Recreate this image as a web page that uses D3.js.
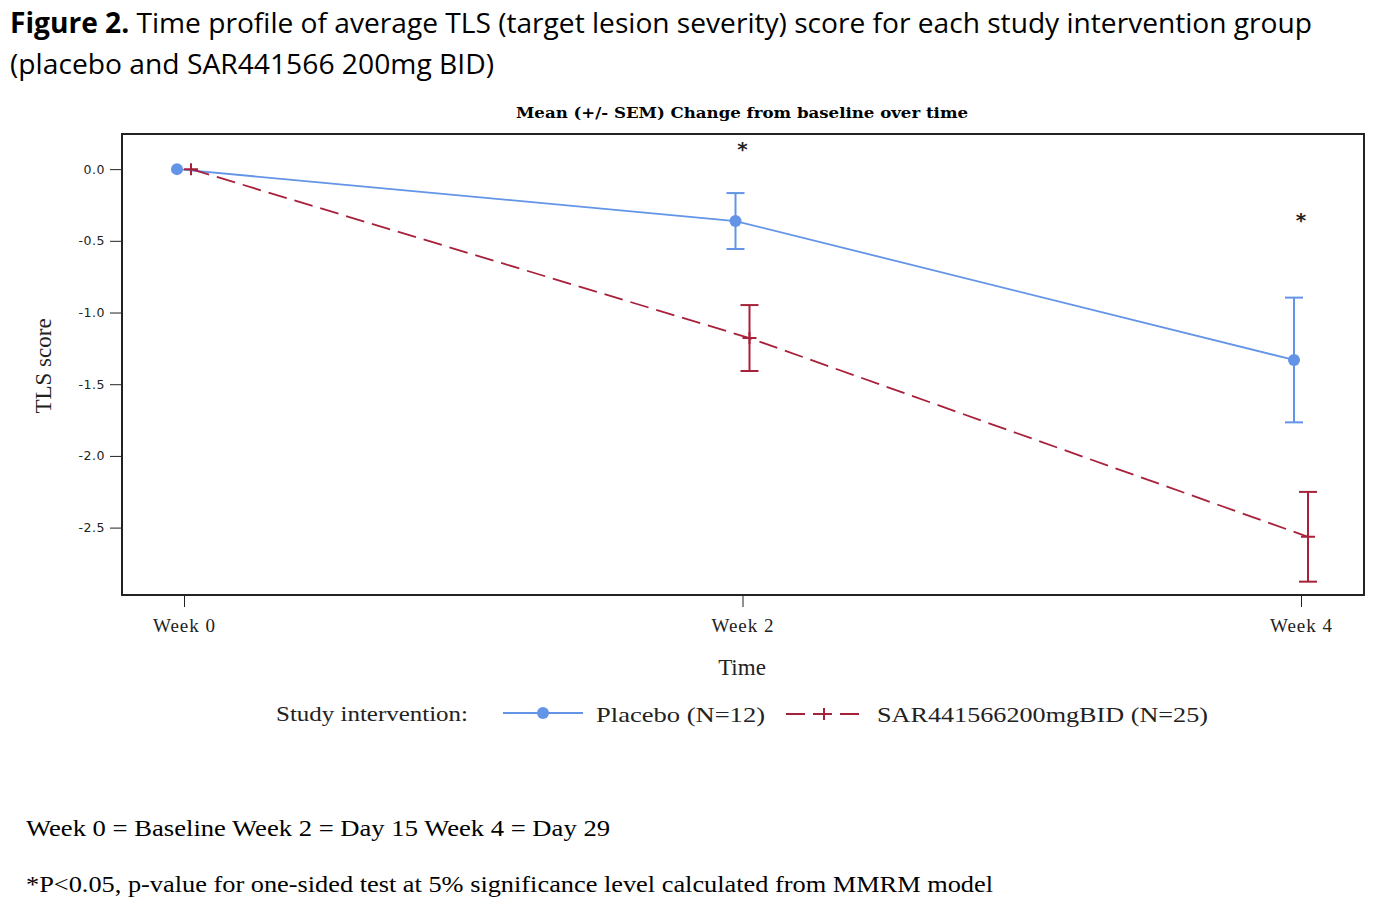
<!DOCTYPE html>
<html>
<head>
<meta charset="utf-8">
<script src="https://cdn.jsdelivr.net/npm/d3@7"></script>
<style>
  body { margin: 0; background: #fff; }
  svg { display: block; }
</style>
</head>
<body>
<script>
// values
const weeks = ["Week 0", "Week 2", "Week 4"]
const placeboMean = [0, -0.362, -1.331]
const placeboSem = [0, 0.195, 0.435]
const sarMean = [0, -1.178, -2.564]
const sarSem = [0, 0.23, 0.313]
const yTicks = [0, -0.5, -1.0, -1.5, -2.0, -2.5]
const significant = ["Week 2", "Week 4"]
const starValue = [0.165, -0.33]

const blue = "#6394e8"
const red = "#a8213b"

const width = 1391, height = 911
const svg = d3.select("body").append("svg")
    .attr("width", width)
    .attr("height", height)

// figure caption
const cap = svg.append("text")
    .attr("x", 10).attr("y", 33)
    .attr("font-family", "Open Sans, sans-serif")
    .attr("font-size", 28)
    .attr("fill", "#000")
    .attr("textLength", 1302)
    .attr("lengthAdjust", "spacingAndGlyphs")
cap.append("tspan").attr("font-weight", "bold").text("Figure 2.")
cap.append("tspan").text(" Time profile of average TLS (target lesion severity) score for each study intervention group")

svg.append("text")
    .attr("x", 10).attr("y", 74)
    .attr("font-family", "Open Sans, sans-serif")
    .attr("font-size", 28)
    .attr("textLength", 484)
    .attr("lengthAdjust", "spacingAndGlyphs")
    .text("(placebo and SAR441566 200mg BID)")

// plot area
const ivp = {x: 122, y: 134, w: 1364, h: 595}

const x = d3.scalePoint()
    .domain(weeks)
    .range([184, 1301])

const y = d3.scaleLinear()
    .domain([-2.97, 0.245])
    .range([ivp.h, ivp.y])

const off = 7

svg.append("text")
    .attr("x", 742).attr("y", 118)
    .attr("text-anchor", "middle")
    .attr("font-family", "DejaVu Serif, serif")
    .attr("font-weight", "bold")
    .attr("font-size", 14)
    .attr("textLength", 452)
    .attr("lengthAdjust", "spacingAndGlyphs")
    .text("Mean (+/- SEM) Change from baseline over time")

// axes
const yAxis = svg.append("g")
    .attr("transform", `translate(${ivp.x},0)`)
    .call(d3.axisLeft(y).tickValues(yTicks).tickFormat(d3.format(".1f")).tickSize(12).tickPadding(5))
yAxis.select(".domain").remove()
yAxis.selectAll("line").attr("stroke", "#222")
yAxis.selectAll("text")
    .attr("font-family", "DejaVu Sans, sans-serif")
    .attr("font-size", 12.5)
    .attr("letter-spacing", 0.5)
    .attr("fill", "#222")
    .text(d => d3.format(".1f")(d).replace("−", "-"))

const xAxis = svg.append("g")
    .attr("transform", `translate(0,${ivp.h})`)
    .call(d3.axisBottom(x).tickSize(12).tickPadding(12))
xAxis.select(".domain").remove()
xAxis.selectAll("line").attr("stroke", "#222")
xAxis.selectAll("text")
    .attr("font-family", "Liberation Serif, serif")
    .attr("font-size", 19)
    .attr("fill", "#222")
    .attr("letter-spacing", 1)

svg.append("rect")
    .attr("x", ivp.x).attr("y", ivp.y)
    .attr("width", ivp.w - ivp.x).attr("height", ivp.h - ivp.y)
    .attr("fill", "none")
    .attr("stroke", "#222")
    .attr("stroke-width", 2)

svg.append("text")
    .attr("transform", "translate(51,366) rotate(-90)")
    .attr("text-anchor", "middle")
    .attr("font-family", "Liberation Serif, serif")
    .attr("font-size", 23)
    .attr("fill", "#222")
    .text("TLS score")

svg.append("text")
    .attr("x", 742).attr("y", 675)
    .attr("text-anchor", "middle")
    .attr("font-family", "Liberation Serif, serif")
    .attr("font-size", 23)
    .attr("fill", "#222")
    .text("Time")

// series
const line = dx => d3.line()
    .x((d, i) => x(weeks[i]) + dx)
    .y(d => y(d))

svg.append("path")
    .datum(placeboMean)
    .attr("d", line(-off))
    .attr("fill", "none")
    .attr("stroke", blue)
    .attr("stroke-width", 1.8)

svg.append("path")
    .datum(sarMean)
    .attr("d", line(off))
    .attr("fill", "none")
    .attr("stroke", red)
    .attr("stroke-width", 1.8)
    .attr("stroke-dasharray", "19,8")

function errorBars(mean, sem, dx, color) {
    const g = svg.append("g").attr("stroke", color).attr("stroke-width", 2)
    const data = mean.map((m, i) => ({w: weeks[i], m, s: sem[i]})).filter(d => d.s > 0)
    g.selectAll(".v").data(data).enter().append("line")
        .attr("x1", d => x(d.w) + dx).attr("x2", d => x(d.w) + dx)
        .attr("y1", d => y(d.m + d.s)).attr("y2", d => y(d.m - d.s))
    g.selectAll(".t").data(data).enter().append("line")
        .attr("x1", d => x(d.w) + dx - 9).attr("x2", d => x(d.w) + dx + 9)
        .attr("y1", d => y(d.m + d.s)).attr("y2", d => y(d.m + d.s))
    g.selectAll(".b").data(data).enter().append("line")
        .attr("x1", d => x(d.w) + dx - 9).attr("x2", d => x(d.w) + dx + 9)
        .attr("y1", d => y(d.m - d.s)).attr("y2", d => y(d.m - d.s))
}
errorBars(placeboMean, placeboSem, -off, blue)
errorBars(sarMean, sarSem, off, red)

svg.selectAll(".dot")
    .data(placeboMean)
    .enter()
    .append("circle")
    .attr("cx", (d, i) => x(weeks[i]) - off)
    .attr("cy", d => y(d))
    .attr("r", 6)
    .attr("fill", blue)

svg.selectAll(".plus")
    .data(sarMean)
    .enter()
    .append("path")
    .attr("d", (d, i) => {
        const cx = x(weeks[i]) + off, cy = y(d)
        return `M${cx - 7},${cy}H${cx + 7}M${cx},${cy - 6}V${cy + 6}`
    })
    .attr("stroke", red)
    .attr("stroke-width", 2)
    .attr("fill", "none")

svg.selectAll(".star")
    .data(significant)
    .enter()
    .append("text")
    .attr("x", d => x(d))
    .attr("y", (d, i) => y(starValue[i]) + 11)
    .attr("text-anchor", "middle")
    .attr("font-family", "DejaVu Sans, sans-serif")
    .attr("font-weight", "bold")
    .attr("font-size", 20)
    .attr("fill", "#222")
    .text("*")

// legend
const lg = svg.append("g")
    .attr("font-family", "Liberation Serif, serif")
    .attr("font-size", 22)
    .attr("fill", "#222")
lg.append("text").attr("x", 276).attr("y", 721)
    .attr("textLength", 192).attr("lengthAdjust", "spacingAndGlyphs")
    .text("Study intervention:")
lg.append("line").attr("x1", 503).attr("x2", 583).attr("y1", 713).attr("y2", 713)
    .attr("stroke", blue).attr("stroke-width", 1.8)
lg.append("circle").attr("cx", 543).attr("cy", 713).attr("r", 6).attr("fill", blue)
lg.append("text").attr("x", 596).attr("y", 722)
    .attr("textLength", 169).attr("lengthAdjust", "spacingAndGlyphs")
    .text("Placebo (N=12)")
lg.append("line").attr("x1", 786).attr("x2", 862).attr("y1", 714).attr("y2", 714)
    .attr("stroke", red).attr("stroke-width", 1.8).attr("stroke-dasharray", "19,8")
lg.append("path").attr("d", "M817,714H831M824,708V720")
    .attr("stroke", red).attr("stroke-width", 2)
lg.append("text").attr("x", 877).attr("y", 722)
    .attr("textLength", 331).attr("lengthAdjust", "spacingAndGlyphs")
    .text("SAR441566200mgBID (N=25)")

// footnotes
const fn = svg.append("g")
    .attr("font-family", "Liberation Serif, serif")
    .attr("font-size", 24)
    .attr("fill", "#000")
fn.append("text").attr("x", 26).attr("y", 836)
    .attr("textLength", 584).attr("lengthAdjust", "spacingAndGlyphs")
    .text("Week 0 = Baseline Week 2 = Day 15 Week 4 = Day 29")
fn.append("text").attr("x", 26).attr("y", 892)
    .attr("textLength", 967).attr("lengthAdjust", "spacingAndGlyphs")
    .text("*P<0.05, p-value for one-sided test at 5% significance level calculated from MMRM model")
</script>
</body>
</html>
